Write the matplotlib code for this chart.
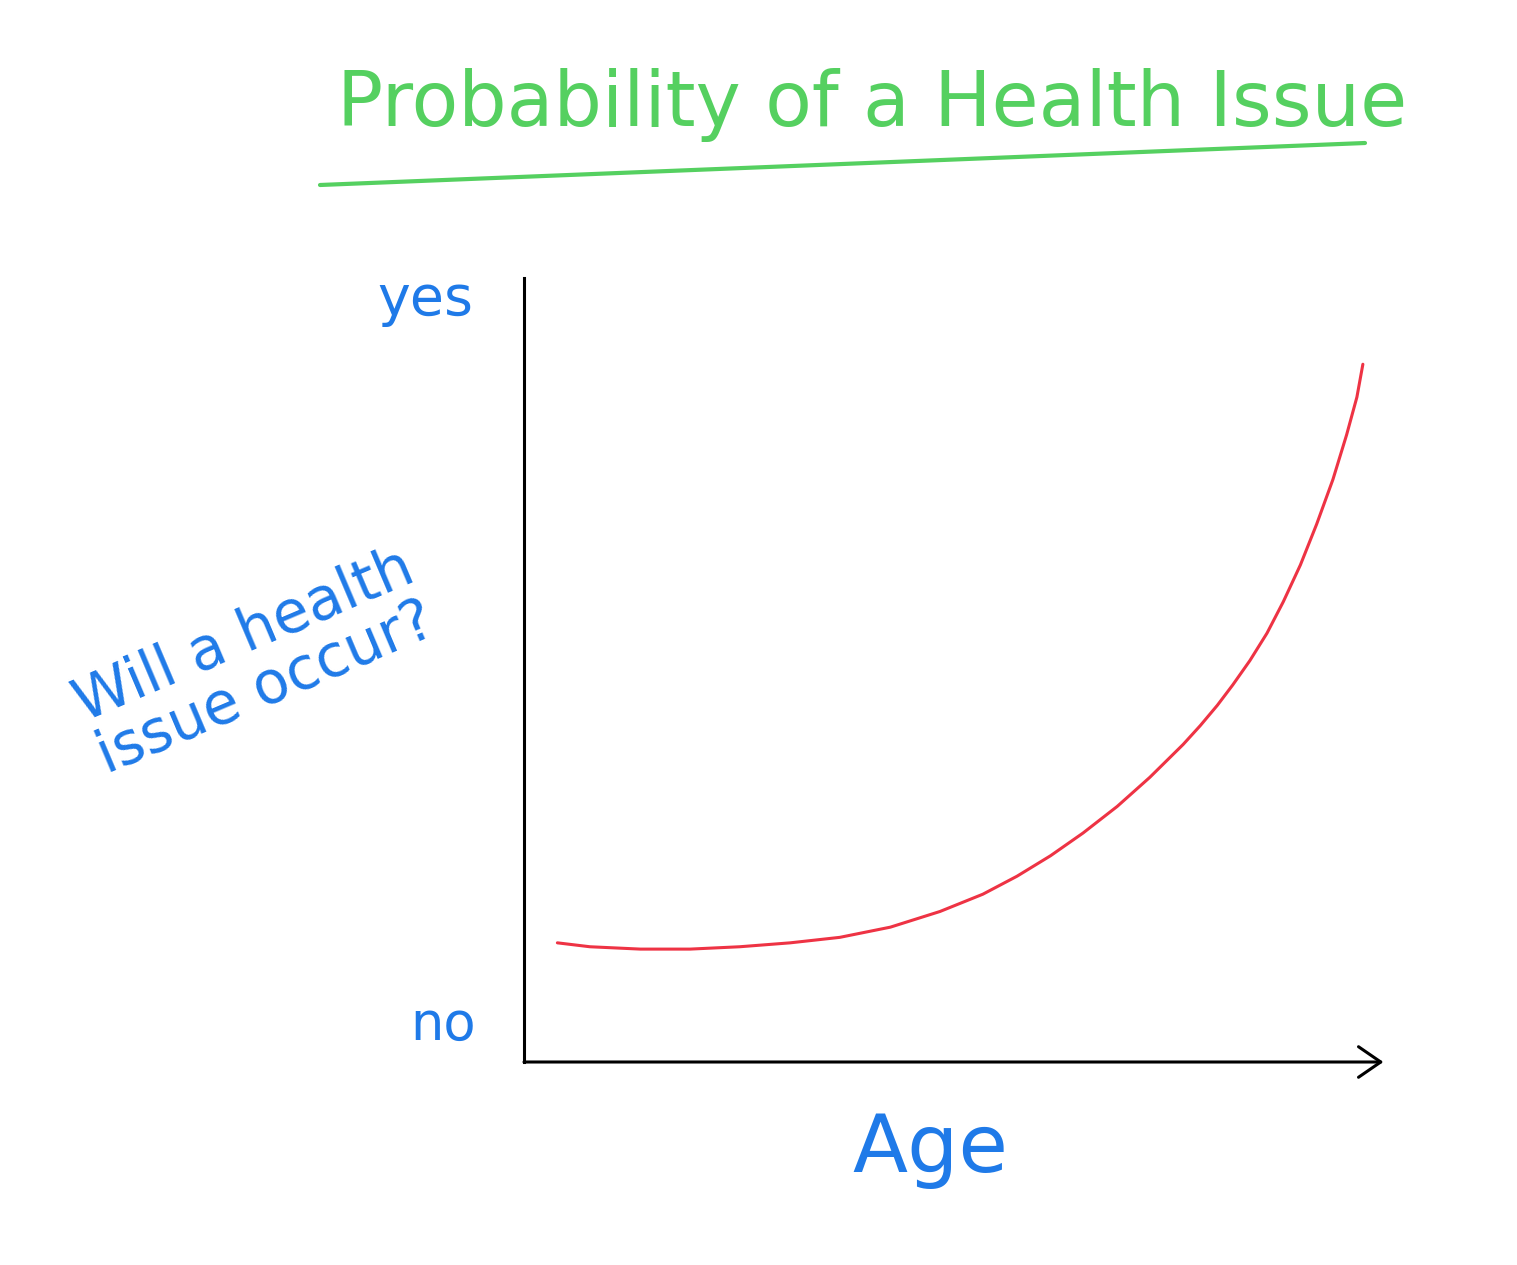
import matplotlib
matplotlib.use("Agg")
import matplotlib.pyplot as plt

# datos (edad vs probabilidad, 0 = no, 1 = yes)
age = [3.9, 7.7, 13.6, 19.4, 25.2, 31.1, 36.9, 42.8, 48.6, 53.6,
       57.6, 61.5, 65.3, 69.3, 73.1, 77.0, 79.0, 81.0, 82.8, 84.8,
       86.8, 88.7, 90.7, 92.6, 94.5, 96.1, 97.3, 98.0]
prob = [0.152, 0.147, 0.144, 0.144, 0.147, 0.152, 0.159, 0.172, 0.192, 0.214,
        0.237, 0.263, 0.292, 0.326, 0.363, 0.405, 0.429, 0.455, 0.481, 0.512,
        0.547, 0.587, 0.634, 0.686, 0.743, 0.800, 0.848, 0.890]

title = "Probability of a Health Issue"
y_labels = ["no", "yes"]
x_label = "Age"
y_question = "Will a health\nissue occur?"

GREEN = "#55d060"
BLUE = "#1f7ae8"
RED = "#ee3344"

W, H = 1517, 1265
fig = plt.figure(figsize=(W / 100, H / 100), dpi=100)
fig.patch.set_facecolor("white")

# ejes en pixeles: x 524..1380, y 278..1062
ax = fig.add_axes([524 / W, (H - 1062) / H, 856 / W, 784 / H])
ax.set_xlim(0, 100)
ax.set_ylim(0, 1)
ax.plot(age, prob, color=RED, lw=2.2, solid_capstyle="round",
        solid_joinstyle="round")

for s in ["top", "right", "bottom"]:
    ax.spines[s].set_visible(False)
ax.spines["left"].set_linewidth(2.2)
ax.set_xticks([])
ax.set_yticks([])
ax.patch.set_alpha(0)

# eje x con flecha
ax.annotate("", xy=(1.004, 0), xytext=(0, 0), xycoords="axes fraction",
            arrowprops=dict(arrowstyle="->,head_length=1.6,head_width=1.1",
                            lw=2.2, color="black", shrinkA=0, shrinkB=0))

# textos
fig.text(872 / W, 1 - 105 / H, title, color=GREEN, fontsize=55,
         ha="center", va="center")
fig.add_artist(plt.Line2D([320 / W, 1365 / W], [1 - 185 / H, 1 - 143 / H],
                          color=GREEN, lw=3, solid_capstyle="round"))

fig.text(425 / W, 1 - 300 / H, y_labels[1], color=BLUE, fontsize=40,
         ha="center", va="center")
fig.text(443 / W, 1 - 1025 / H, y_labels[0], color=BLUE, fontsize=38,
         ha="center", va="center")
fig.text(930 / W, 1 - 1150 / H, x_label, color=BLUE, fontsize=58,
         ha="center", va="center")
fig.text(255 / W, 1 - 662 / H, y_question, color=BLUE, fontsize=42,
         ha="center", va="center", rotation=23, linespacing=1.0)

fig.savefig("out.png", dpi=100, facecolor="white")
